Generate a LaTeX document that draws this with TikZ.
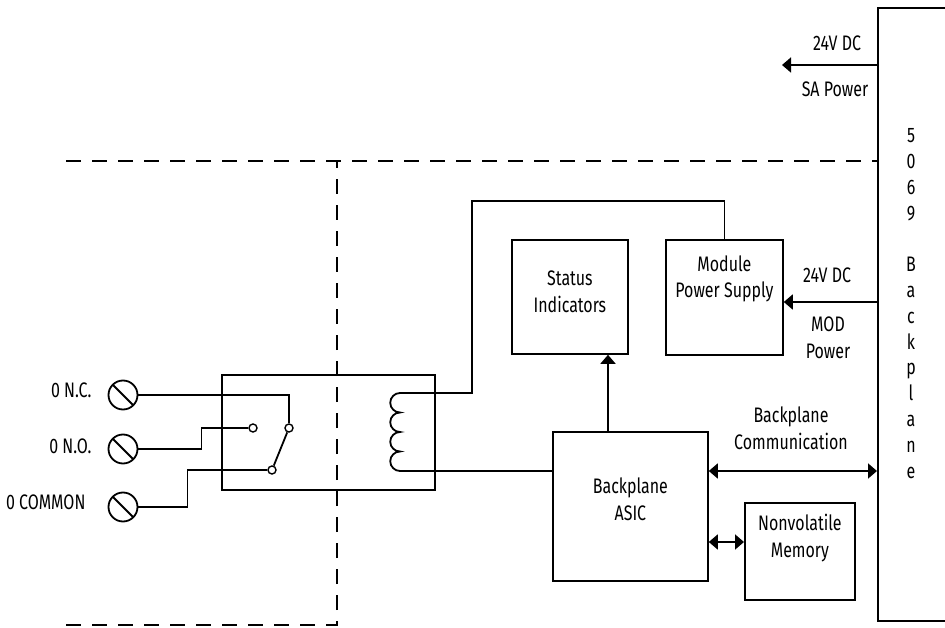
\documentclass[tikz,border=0pt]{standalone}
\usepackage{fontspec}
\setmainfont[FakeStretch=0.76]{Fira Sans}
\usetikzlibrary{arrows.meta}

\tikzset{
  wire/.style={line width=1.8pt},
  blk/.style={draw,line width=1.8pt,inner sep=0pt},
  txt/.style={font=\fontsize{21}{26.5}\selectfont,align=center,inner sep=0pt},
  arr/.style={wire,-{Triangle[length=9pt,width=15pt]}},
  arrs/.style={wire,{Triangle[length=9pt,width=15pt]}-{Triangle[length=9pt,width=15pt]}},
  bound/.style={line width=1.8pt,dash pattern=on 15pt off 11pt},
  term/.style={circle,draw,line width=1.8pt,minimum size=29pt,inner sep=0pt,
    path picture={\draw[wire] (path picture bounding box.north west) -- (path picture bounding box.south east);}},
  contact/.style={circle,draw,fill=white,line width=1.4pt,minimum size=8pt,inner sep=0pt}
}

\begin{document}
\begin{tikzpicture}[x=1pt,y=-1pt]
  \clip (0,0) rectangle (945,628);

  %backplane
  \node[blk,anchor=north west,minimum width=120pt,minimum height=613pt] (bp) at (877,7) {};
  \foreach \ch [count=\i] in {5,0,6,9,,B,a,c,k,p,l,a,n,e}
    \node[txt,anchor=base] (bp-\i) at (911,143+25.77*\i-25.77) {\ch};

  %boundary
  \draw[bound] (66,161) -- (877,161);
  \draw[bound] (66,625) -- (337,625) -- (337,161);

  %modules
  \node[blk,minimum width=116pt,minimum height=114pt,anchor=north west] (stat) at (511,239) {};
  \node[txt] (stat-t) at ([yshift=-53pt]stat.north) {Status\\Indicators};
  \node[blk,minimum width=117pt,minimum height=115pt,anchor=north west] (psu) at (665,239) {};
  \node[txt] (psu-t) at ([yshift=-40pt]psu.north) {Module\\Power Supply};
  \node[blk,minimum width=155pt,minimum height=149pt,anchor=north west] (asic) at (552,431) {};
  \node[txt] (asic-t) at ([yshift=-68pt]asic.north) {Backplane\\ASIC};
  \node[blk,minimum width=110pt,minimum height=97pt,anchor=north west] (mem) at (744,502) {};
  \node[txt] (mem-t) at ([yshift=-36pt]mem.north) {Nonvolatile\\Memory};

  %relay
  \node[blk,minimum width=213pt,minimum height=115pt,anchor=north west] (rly) at (221,374) {};
  \coordinate (coil-t) at (400,393);
  \coordinate (coil-b) at (400,471);
  \draw[wire] (coil-t) arc[start angle=90,end angle=270,radius=9.75pt]
    arc[start angle=90,end angle=270,radius=9.75pt]
    arc[start angle=90,end angle=270,radius=9.75pt]
    arc[start angle=90,end angle=270,radius=9.75pt];
  \node[contact] (nc) at (289,428) {};
  \node[contact] (no) at (253,428) {};
  \node[contact] (com) at (272,470) {};
  \draw[wire] (com) -- (nc);

  %terminals
  \node[term] (tnc) at (123,395) {};
  \node[term] (tno) at (123,449) {};
  \node[term] (tcom) at (123,507) {};
  \node[txt,at=(tnc.west),left=16pt,yshift=5pt] (tnc-l) {0 N.C.};
  \node[txt,at=(tno.west),left=16pt,yshift=3pt] (tno-l) {0 N.O.};
  \node[txt,at=(tcom.west),left=22pt,yshift=5pt] (tcom-l) {0 COMMON};
  \draw[wire] (tnc.east) -| (nc.north);
  \draw[wire] (tno.east) -- ++(63,0) |- (no.west);
  \draw[wire] (tcom.east) -- ++(49,0) |- (com.west);

  %wiring
  \coordinate (jog) at (472,201);
  \draw[wire] (coil-t) -| (jog) -| (psu.north);
  \draw[wire] (coil-b) -- (asic.west |- coil-b);
  \coordinate (up) at (608,0);
  \draw[arr] (asic.north -| up) -- (stat.south -| up);
  \coordinate (sa) at (782,65);
  \draw[arr] (bp.west |- sa) -- (sa);
  \coordinate (modrow) at (0,302);
  \draw[arr] (bp.west |- modrow) -- (psu.east |- modrow);
  \draw[arrs] (asic.east |- coil-b) -- (bp.west |- coil-b);
  \coordinate (memrow) at (0,542);
  \draw[arrs] (asic.east |- memrow) -- (mem.west |- memrow);

  %labels
  \node[txt] (sa-v) at (837,43) {24V DC};
  \node[txt] (sa-p) at (835,89) {SA Power};
  \node[txt] (mod-v) at (827,275) {24V DC};
  \node[txt] (mod-p) at (828,338) {MOD\\Power};
  \node[txt] (comm) at (791,428) {Backplane\\Communication};
\end{tikzpicture}
\end{document}
